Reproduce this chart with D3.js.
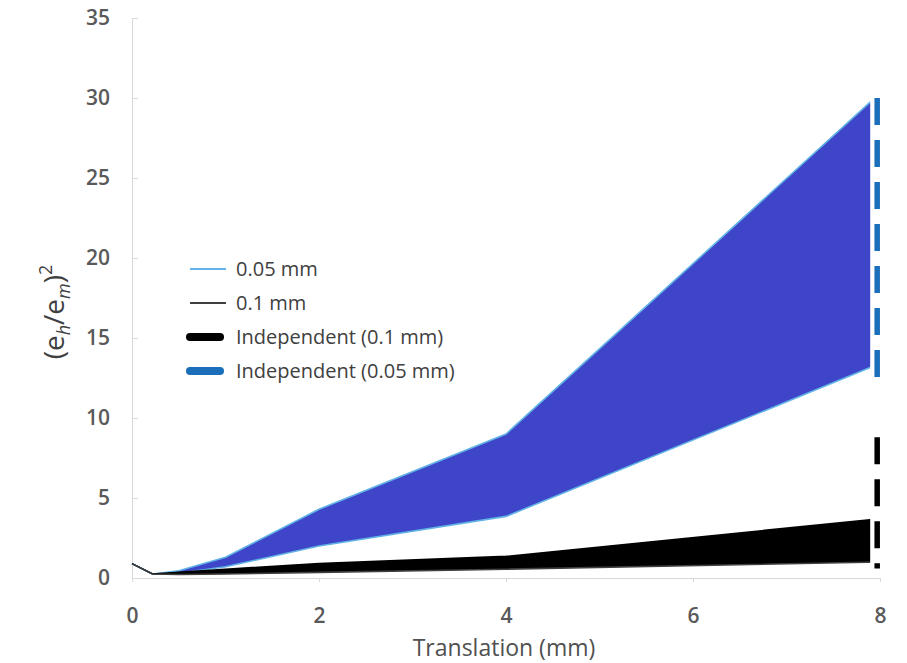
<!DOCTYPE html>
<html>
<head>
<meta charset="utf-8">
<script src="https://cdnjs.cloudflare.com/ajax/libs/d3/7.8.5/d3.min.js"></script>
<style>
  html, body { margin: 0; padding: 0; background: #fff; }
  svg { display: block; font-family: "Open Sans", "DejaVu Sans", sans-serif; }
</style>
</head>
<body>
<svg id="chart" width="907" height="663"></svg>
<script>
'use strict';

// translation (mm)
var translation = [0, 0.22, 0.5, 1, 2, 4, 8];

// (eh/em)^2 envelope for 0.05 mm
var upper005 = [0.9, 0.25, 0.45, 1.3, 4.3, 9.0, 30.3];
var lower005 = [0.9, 0.25, 0.3, 0.7, 2.0, 3.85, 13.4];

// (eh/em)^2 envelope for 0.1 mm
var upper01 = [0.9, 0.25, 0.35, 0.55, 0.9, 1.35, 3.7];
var lower01 = [0.9, 0.25, 0.22, 0.25, 0.35, 0.55, 1.0];

// independent ranges at the last translation
var indepX = 7.97;
var indep005 = [12.0, 30.0];
var indep01 = [0.6, 8.8];

var xTicks = [0, 2, 4, 6, 8];
var yTicks = [0, 5, 10, 15, 20, 25, 30, 35];

var legendItems = [
  { label: '0.05 mm', color: '#62b3e6', width: 2, thick: false },
  { label: '0.1 mm', color: '#404040', width: 2, thick: false },
  { label: 'Independent (0.1 mm)', color: '#000000', width: 8, thick: true },
  { label: 'Independent (0.05 mm)', color: '#1b6fba', width: 8, thick: true }
];

var FONT = '"Open Sans", "DejaVu Sans", sans-serif';

var svg = d3.select('#chart');
var margin = { left: 132, right: 27, top: 18, bottom: 85 };
var width = 907 - margin.left - margin.right,
    height = 663 - margin.top - margin.bottom;

var x = d3.scaleLinear().domain([0, 8]).range([0, width]);
var y = d3.scaleLinear().domain([0, 35]).range([height, 0]);

var g = svg.append('g')
  .attr('transform', 'translate(' + margin.left + ',' + margin.top + ')');

// axes
var xAxis = g.append('g')
  .attr('transform', 'translate(0,' + height + ')')
  .call(d3.axisBottom(x).tickValues(xTicks).tickSize(4).tickPadding(26));
var yAxis = g.append('g')
  .call(d3.axisLeft(y).tickValues(yTicks).tickSize(-6).tickPadding(22));

[xAxis, yAxis].forEach(function(a) {
  a.attr('font-family', FONT).attr('font-size', 21);
  a.selectAll('path, line').attr('stroke', '#d9d9d9');
  a.selectAll('text').attr('fill', '#595959').attr('font-weight', 600);
});

var pts = translation.map(function(t, i) {
  return { t: t, u5: upper005[i], l5: lower005[i], u1: upper01[i], l1: lower01[i] };
});

function band(uKey, lKey) {
  return d3.area()
    .x(function(d) { return x(d.t); })
    .y0(function(d) { return y(d[lKey]); })
    .y1(function(d) { return y(d[uKey]); });
}
function edge(key) {
  return d3.line()
    .x(function(d) { return x(d.t); })
    .y(function(d) { return y(d[key]); });
}

// 0.05 mm band
g.append('path').datum(pts)
  .attr('d', band('u5', 'l5'))
  .attr('fill', '#3e45c8');
['u5', 'l5'].forEach(function(k) {
  g.append('path').datum(pts)
    .attr('d', edge(k))
    .attr('fill', 'none')
    .attr('stroke', '#62b3e6')
    .attr('stroke-width', 1.6);
});

// 0.1 mm band
g.append('path').datum(pts)
  .attr('d', band('u1', 'l1'))
  .attr('fill', '#000');
['u1', 'l1'].forEach(function(k) {
  g.append('path').datum(pts)
    .attr('d', edge(k))
    .attr('fill', 'none')
    .attr('stroke', k === 'l1' ? '#404040' : '#000')
    .attr('stroke-width', 1.6);
});

// independent ranges: white halo then dashed line
[{ r: indep005, c: '#1b6fba' }, { r: indep01, c: '#000' }].forEach(function(s) {
  g.append('line')
    .attr('x1', x(indepX)).attr('x2', x(indepX))
    .attr('y1', y(s.r[0])).attr('y2', y(s.r[1]) - 6)
    .attr('stroke', '#fff').attr('stroke-width', 14);
  g.append('line')
    .attr('x1', x(indepX)).attr('x2', x(indepX))
    .attr('y1', y(s.r[1])).attr('y2', y(s.r[0]))
    .attr('stroke', s.c).attr('stroke-width', 5.5)
    .attr('stroke-dasharray', '27,15');
});

// legend
var legend = g.append('g').attr('transform', 'translate(56,251)');
legendItems.forEach(function(d, i) {
  var row = legend.append('g').attr('transform', 'translate(0,' + (i * 34) + ')');
  row.append('line')
    .attr('x1', 2).attr('x2', d.thick ? 32 : 38)
    .attr('stroke', d.color)
    .attr('stroke-width', d.width)
    .attr('stroke-linecap', d.thick ? 'round' : 'butt');
  row.append('text')
    .attr('x', 48).attr('dy', '0.35em')
    .attr('fill', '#404040')
    .style('font-size', '20px')
    .text(d.label);
});

// axis titles
svg.append('text')
  .attr('x', margin.left + width / 2 - 2).attr('y', 656)
  .attr('text-anchor', 'middle')
  .attr('fill', '#505050')
  .style('font-size', '23px')
  .text('Translation (mm)');

var yt = svg.append('text')
  .attr('transform', 'translate(64,' + (margin.top + 294) + ') rotate(-90)')
  .attr('text-anchor', 'middle')
  .attr('fill', '#404040')
  .style('font-size', '28px');
yt.append('tspan').text('(e');
yt.append('tspan').attr('font-style', 'italic').attr('font-size', '18px').attr('dy', 6).text('h');
yt.append('tspan').attr('dy', -6).text('/e');
yt.append('tspan').attr('font-style', 'italic').attr('font-size', '18px').attr('dy', 6).text('m');
yt.append('tspan').attr('dy', -6).text(')');
yt.append('tspan').attr('font-size', '18px').attr('dy', -12).text('2');
</script>
</body>
</html>
